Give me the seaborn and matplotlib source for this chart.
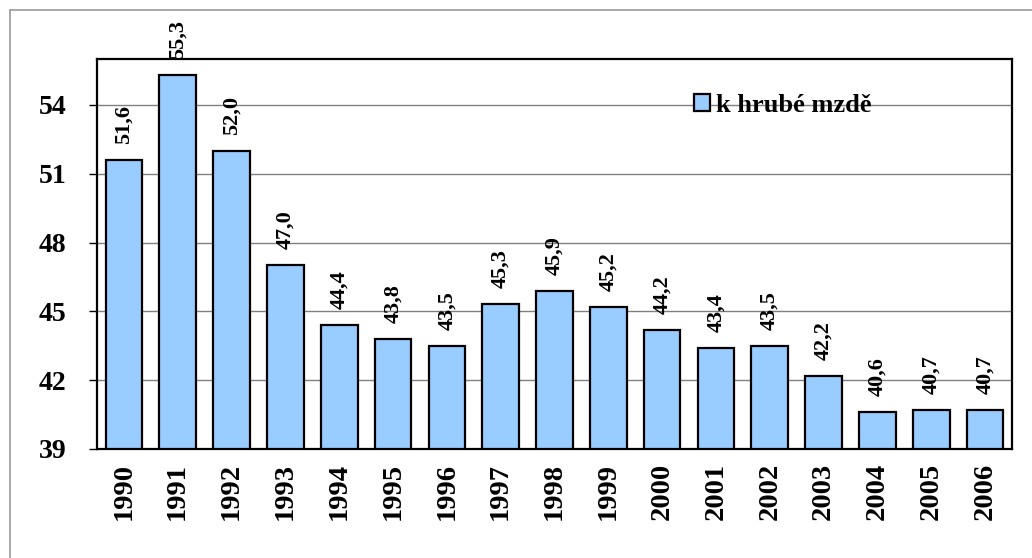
import matplotlib
matplotlib.use("Agg")
import matplotlib.pyplot as plt
import seaborn as sns
import pandas as pd
from matplotlib.lines import Line2D

sns.set_theme(style="white")
plt.rcParams["font.family"] = ["Liberation Serif", "DejaVu Serif"]
plt.rcParams["text.color"] = "black"
plt.rcParams["xtick.color"] = "black"
plt.rcParams["ytick.color"] = "black"

years = ["1990", "1991", "1992", "1993", "1994", "1995", "1996", "1997", "1998",
         "1999", "2000", "2001", "2002", "2003", "2004", "2005", "2006"]
values = [51.6, 55.3, 52.0, 47.0, 44.4, 43.8, 43.5, 45.3, 45.9,
          45.2, 44.2, 43.4, 43.5, 42.2, 40.6, 40.7, 40.7]
series_name = "k hrubé mzdě"
yticks = [39, 42, 45, 48, 51, 54]

df = pd.DataFrame({"rok": years, "hodnota": values})

fig = plt.figure(figsize=(10.32, 5.58), dpi=100)
ax = fig.add_axes([97 / 1032, 1 - 449 / 558, 915 / 1032, 390 / 558])

# gray outer frame (chart area border)
fig.add_artist(Line2D([10 / 1032, 10 / 1032], [0, 1 - 10 / 558], color="#999999", lw=1.2))
fig.add_artist(Line2D([10 / 1032, 1], [1 - 10 / 558, 1 - 10 / 558], color="#999999", lw=1.2))

sns.barplot(data=df, x="rok", y="hodnota", color="#99CCFF", saturation=1,
            edgecolor="black", linewidth=1.6, width=0.68, label=series_name, ax=ax)

ax.set_ylim(39, 56)
ax.set_xlim(-0.5, len(years) - 0.5)
ax.set_yticks(yticks)
ax.set_yticklabels([str(t) for t in yticks], fontsize=20, fontweight="bold")
ax.set_axisbelow(True)
for t in yticks[1:]:
    ax.axhline(t, color="#808080", lw=1.0, zorder=0)

# category labels, ticks between categories
ax.set_xticks(range(len(years)))
ax.set_xticklabels(years, rotation=90, fontsize=20.5, fontweight="bold")
ax.tick_params(axis="x", length=0, pad=10)
ax.set_xticks([i - 0.5 for i in range(len(years) + 1)], minor=True)
ax.tick_params(axis="x", which="minor", length=6, width=1, color="black", direction="out")
ax.tick_params(axis="y", length=6, width=1, color="black", direction="out", left=True, pad=16)
ax.set_xlabel("")
ax.set_ylabel("")

for s in ax.spines.values():
    s.set_color("black")
    s.set_linewidth(1.6)

for i, v in enumerate(values):
    ax.text(i, v + 0.7, f"{v:.1f}".replace(".", ","), rotation=90, ha="center",
            va="bottom", fontsize=16, fontweight="bold", clip_on=False)

ax.legend(loc="center left", bbox_to_anchor=(0.626, 0.882), frameon=False,
          handlelength=0.62, handleheight=0.62, handletextpad=0.25,
          prop={"size": 19, "weight": "bold"})

fig.savefig("out.png", dpi=100)
